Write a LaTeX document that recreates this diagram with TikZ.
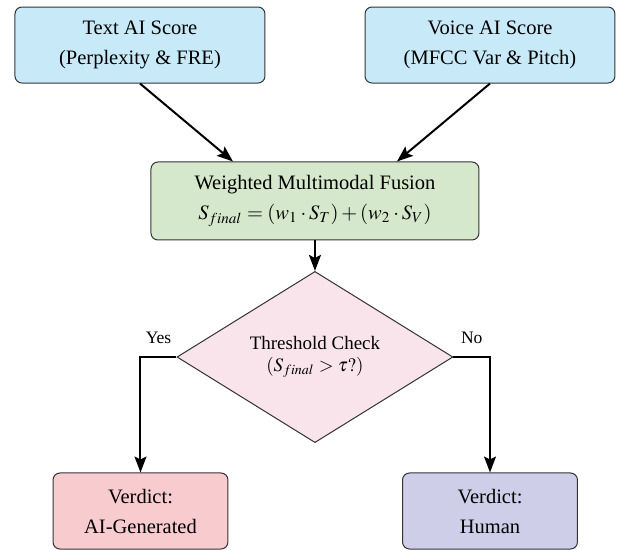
\documentclass[tikz,border=0pt]{standalone}
\usepackage{mathptmx}
\usepackage[no-math]{fontspec}
\setmainfont{Liberation Serif}
\usetikzlibrary{shapes.geometric,arrows.meta}

\definecolor{scoreblue}{RGB}{200,234,248}
\definecolor{fusegreen}{RGB}{213,232,204}
\definecolor{checkpink}{RGB}{249,228,235}
\definecolor{aired}{RGB}{248,203,206}
\definecolor{humanviolet}{RGB}{207,206,232}

\begin{document}
\begin{tikzpicture}[scale=1,
  box/.style={draw=black!80, line width=0.5pt, rounded corners=3.5pt, align=center,
    inner sep=0pt, font=\fontsize{10.25}{15}\selectfont},
  flow/.style={line width=1pt, -{Stealth[length=8pt,width=6pt,inset=1.5pt]}},
  branch/.style={font=\fontsize{8.75}{10}\selectfont}
]
\useasboundingbox (0,0) rectangle (10.843,-9.665);

% two scores on top
\node[box, fill=scoreblue, minimum width=4.393cm, minimum height=1.336cm] (text) at (2.460,-0.791) {Text AI Score\\(Perplexity \& FRE)};
\node[box, fill=scoreblue, minimum width=4.393cm, minimum height=1.336cm] (voice) at (8.611,-0.791) {Voice AI Score\\(MFCC Var \& Pitch)};

% fusion and threshold
\node[box, fill=fusegreen, minimum width=5.764cm, minimum height=1.371cm] (fusion) at (5.535,-3.532) {Weighted Multimodal Fusion\\$S_{final} = (w_1 \cdot S_T) + (w_2 \cdot S_V)$};
\node[diamond, draw=black!80, line width=0.5pt, fill=checkpink, minimum width=4.850cm, minimum height=2.425cm, inner sep=0pt, align=center, font=\fontsize{9.5}{10.8}\selectfont] (check) at (5.535,-6.274) {Threshold Check\\$(S_{final} > \tau?)$};

% verdicts
\node[box, fill=aired, minimum width=3.075cm, minimum height=1.336cm] (ai) at (2.469,-8.980) {Verdict:\\AI-Generated};
\node[box, fill=humanviolet, minimum width=3.075cm, minimum height=1.336cm] (human) at (8.611,-8.980) {Verdict:\\Human};

\draw[flow] (text.south) -- ([xshift=-1.441cm]fusion.north);
\draw[flow] (voice.south) -- ([xshift=1.441cm]fusion.north);
\draw[flow] (fusion.south) -- (check.north);
\draw[flow] (check.west) -| (ai.north) node[branch, above=3pt, pos=0.25] (yes) {Yes};
\draw[flow] (check.east) -| (human.north) node[branch, above=3pt, pos=0.25] (no) {No};
\end{tikzpicture}
\end{document}
